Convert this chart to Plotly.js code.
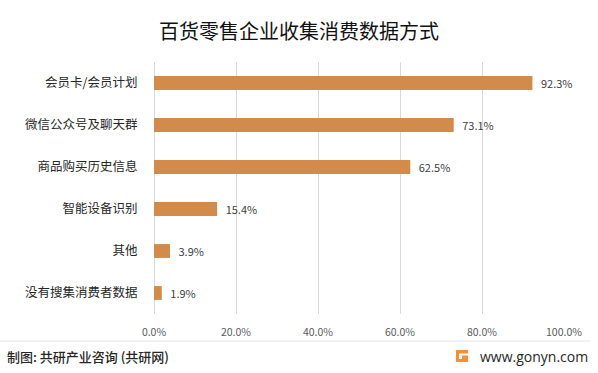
<!DOCTYPE html>
<html>
<head>
<meta charset="utf-8">
<script src="https://cdn.plot.ly/plotly-3.0.1.min.js"></script>
<style>
html,body{margin:0;padding:0;background:#fff;}
#chart{width:598px;height:373px;}
</style>
</head>
<body>
<div id="chart"></div>
<script>
const categories = ["会员卡/会员计划","微信公众号及聊天群","商品购买历史信息","智能设备识别","其他","没有搜集消费者数据"];
const values = [92.3, 73.1, 62.5, 15.4, 3.9, 1.9];
const tickVals = [0, 20, 40, 60, 80, 100];
const tickLabels = ["0.0%","20.0%","40.0%","60.0%","80.0%","100.0%"];

const font = '"Noto Sans CJK SC", "Noto Sans", sans-serif';

const trace = {
  type: 'bar',
  orientation: 'h',
  x: values,
  y: categories,
  marker: {color: '#D38B4C'},
  text: values.map(v => '\u2002' + v.toFixed(1) + '%'),
  textposition: 'outside',
  constraintext: 'none',
  textfont: {family: font, size: 11, color: '#404040'},
  cliponaxis: false,
  hoverinfo: 'none'
};

const layout = {
  width: 598, height: 373,
  margin: {l: 154, r: 34, t: 62, b: 59},
  paper_bgcolor: '#fff', plot_bgcolor: '#fff',
  bargap: 0.67,
  showlegend: false,
  title: {
    text: '百货零售企业收集消费数据方式',
    font: {family: font, size: 20, color: '#111'},
    x: 0.5, xanchor: 'center', y: 0.915, yanchor: 'middle'
  },
  xaxis: {
    range: [0, 100],
    tickvals: tickVals,
    ticktext: tickLabels,
    tickfont: {family: font, size: 10.5, color: '#595959'},
    showgrid: true, gridcolor: '#d9d9d9', gridwidth: 1,
    zeroline: true, zerolinecolor: '#d9d9d9', zerolinewidth: 1,
    showline: false,
    ticks: 'outside', ticklen: 8, tickcolor: 'rgba(0,0,0,0)',
    fixedrange: true
  },
  yaxis: {
    autorange: 'reversed',
    tickfont: {family: font, size: 12.5, color: '#262626'},
    ticks: 'outside', ticklen: 13, tickcolor: 'rgba(0,0,0,0)',
    showgrid: false, showline: false, zeroline: false,
    fixedrange: true
  },
  shapes: [
    {type: 'line', xref: 'paper', yref: 'paper', x0: -154/410, x1: (590-154)/410, y0: -27/252, y1: -27/252,
     line: {color: '#e6e6e6', width: 1}},
    {type: 'rect', xref: 'paper', yref: 'paper', x0: (456-154)/410, x1: (468-154)/410, y0: -36/252, y1: -48/252,
     fillcolor: '#F29040', line: {width: 0}},
    {type: 'rect', xref: 'paper', yref: 'paper', x0: (459-154)/410, x1: (468-154)/410, y0: -39.5/252, y1: -41.5/252,
     fillcolor: '#ffffff', line: {width: 0}},
    {type: 'rect', xref: 'paper', yref: 'paper', x0: (459-154)/410, x1: (462-154)/410, y0: -41.5/252, y1: -45/252,
     fillcolor: '#ffffff', line: {width: 0}}
  ],
  annotations: [
    {text: '制图: 共研产业咨询 (共研网)', xref: 'paper', yref: 'paper', x: -149/410, y: -42/252,
     xanchor: 'left', yanchor: 'middle', showarrow: false,
     font: {family: font, size: 13, color: '#262626', weight: 500}},
    {text: 'www.gonyn.com', xref: 'paper', yref: 'paper', x: (590-154)/410, y: -42/252,
     xanchor: 'right', yanchor: 'middle', showarrow: false,
     font: {family: '"Open Sans", sans-serif', size: 14, color: '#262626'}}
  ]
};

Plotly.newPlot('chart', [trace], layout, {displayModeBar: false, staticPlot: true});
</script>
</body>
</html>
